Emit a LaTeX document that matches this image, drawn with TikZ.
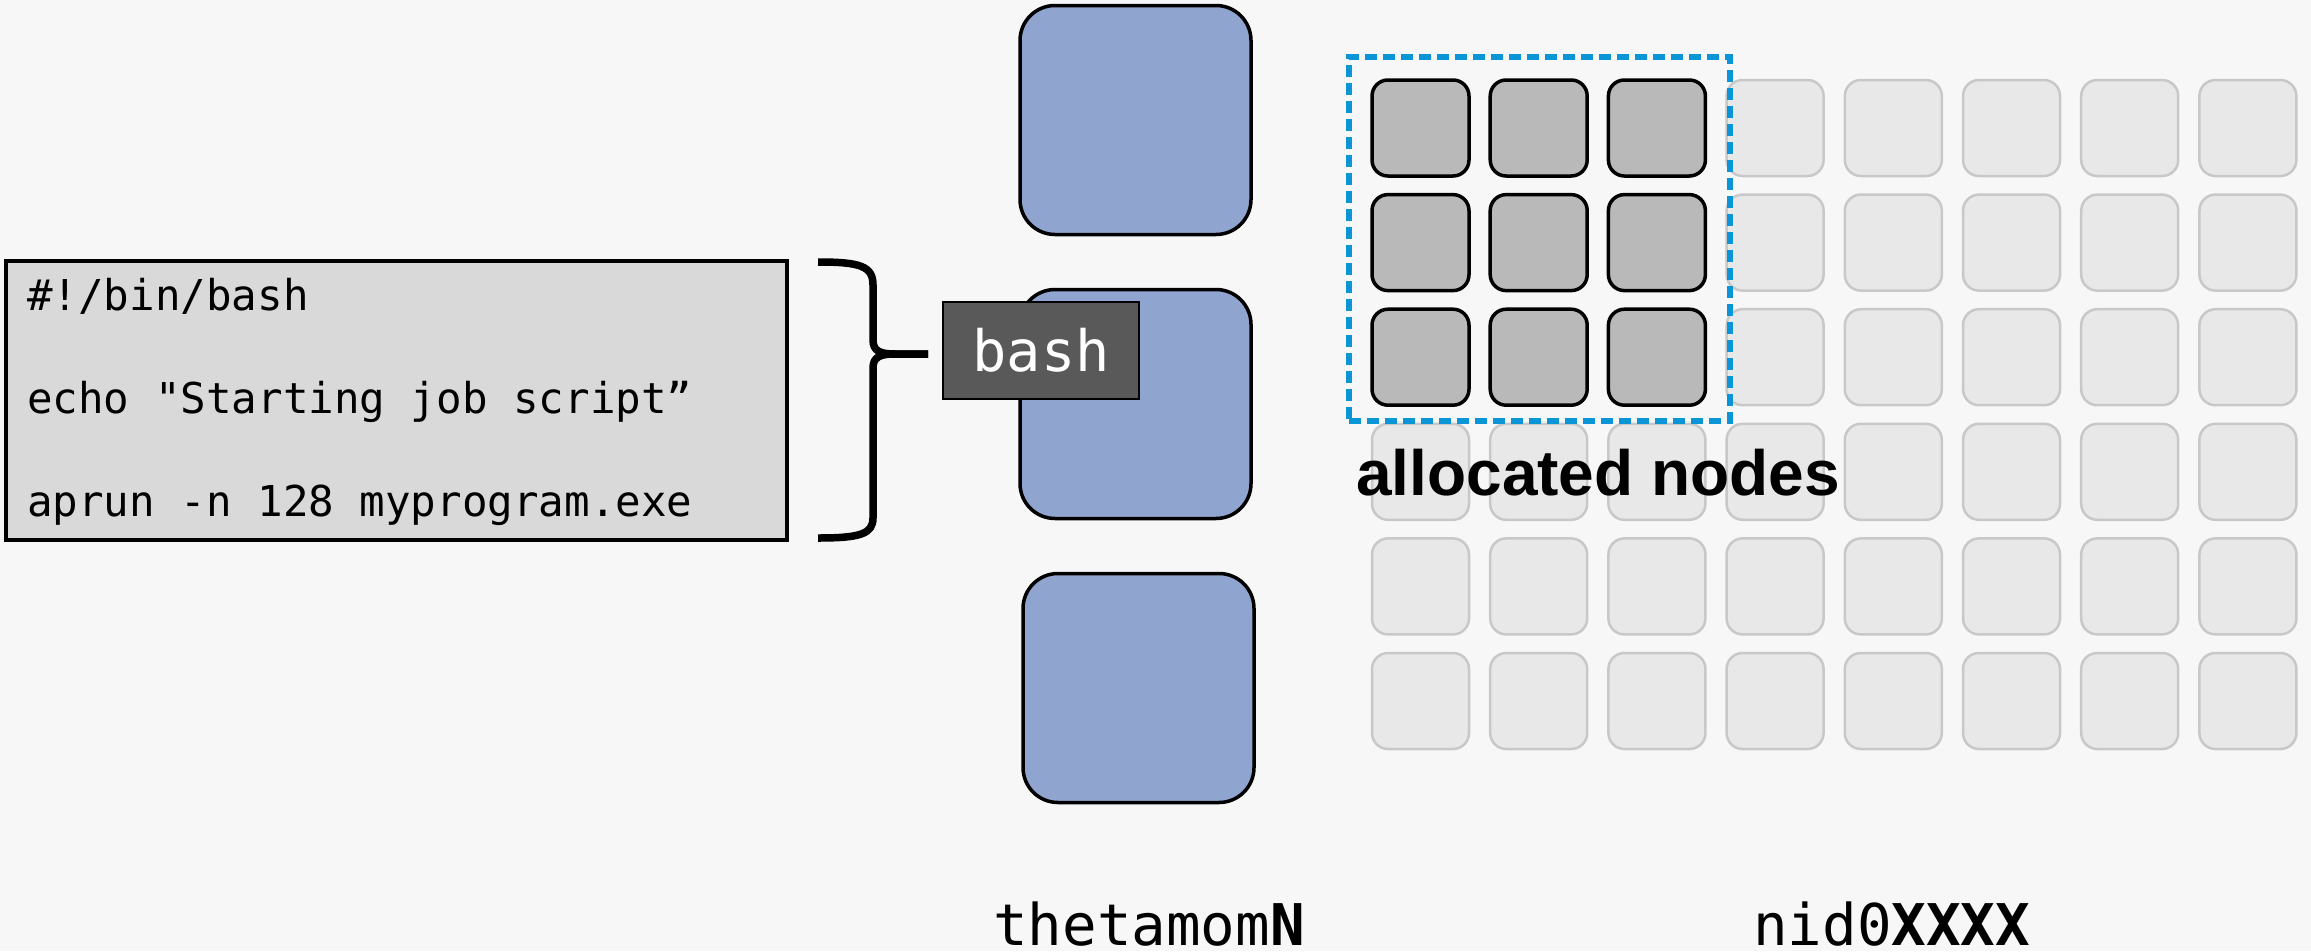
\documentclass[tikz,border=0pt]{standalone}
\usepackage{fontspec}
\setmonofont{DejaVu Sans Mono}
\setsansfont{Liberation Sans}
\definecolor{pagebg}{RGB}{247,247,247}
\definecolor{scriptfill}{RGB}{217,217,217}
\definecolor{bashfill}{RGB}{89,89,89}
\definecolor{loginblue}{RGB}{143,164,206}
\definecolor{freefill}{RGB}{232,232,232}
\definecolor{freeline}{RGB}{200,200,200}
\definecolor{usedfill}{RGB}{185,185,185}
\definecolor{allocblue}{RGB}{10,150,214}
\tikzset{
  scriptbox/.style={rectangle, draw=black, fill=scriptfill, line width=3.5pt,
    minimum width=781pt, minimum height=279pt, inner sep=0pt},
  codeline/.style={anchor=base west, inner sep=0pt, font=\ttfamily\fontsize{42.5pt}{50pt}\selectfont},
  shellbox/.style={rectangle, draw=black, fill=bashfill, line width=2.5pt,
    minimum width=196pt, minimum height=97pt, inner sep=0pt, text=white,
    font=\ttfamily\fontsize{57pt}{66pt}\selectfont},
  loginnode/.style={rectangle, rounded corners=35pt, draw=black, fill=loginblue,
    line width=3.5pt, minimum width=231pt, minimum height=229pt, inner sep=0pt},
  freenode/.style={rectangle, rounded corners=16pt, draw=freeline, fill=freefill,
    line width=2.5pt, minimum width=97pt, minimum height=96pt, inner sep=0pt},
  usednode/.style={freenode, draw=black, fill=usedfill, line width=3.5pt},
  allocframe/.style={rectangle, draw=allocblue, line width=5.5pt,
    dash pattern=on 12pt off 6pt, minimum width=381pt, minimum height=364pt, inner sep=0pt},
  hostlabel/.style={anchor=base west, inner sep=0pt, font=\ttfamily\fontsize{57.5pt}{66pt}\selectfont},
  bracepath/.style={line width=7.5pt, line join=round}
}
\begin{document}
\begin{tikzpicture}[x=1pt,y=-1pt]
  % page
  \fill[pagebg] (0,0) rectangle (2311,951);
  \useasboundingbox (0,0) rectangle (2311,951);

  % job script
  \node[scriptbox] (script) at (396.5,400.5) {};
  \node[codeline] (l1) at (27,310) {\#!/bin/bash};
  \node[codeline] (l2) at (27,413) {echo "Starting job script”};
  \node[codeline] (l3) at (27,516) {aprun -n 128 myprogram.exe};

  % brace gathering the script into the shell
  \coordinate (bracetip) at (928,354);
  \draw[bracepath] (818,262) .. controls (860,262) and (873,266) .. (873,285)
    -- (873,340) .. controls (873,351) and (880,354) .. (895,354) -- (bracetip);
  \draw[bracepath] (bracetip) -- (895,354) .. controls (880,354) and (873,357) .. (873,368)
    -- (873,518) .. controls (873,534) and (860,538) .. (818,538);

  % login nodes
  \node[loginnode] (mom1) at (1135.5,120) {};
  \node[loginnode] (mom2) at (1135.5,404) {};
  \node[loginnode] (mom3) at (1138.5,688) {};
  \node[shellbox] (bash) at (1041,350.5) {bash};

  % compute nodes
  \foreach \i in {0,...,7} {
    \foreach \j in {0,...,5} {
      \pgfmathsetmacro{\cx}{1420.5+118.2*\i}
      \pgfmathsetmacro{\cy}{128+114.6*\j}
      \ifnum\i<3 \ifnum\j<3
        \node[usednode] (c-\i-\j) at (\cx,\cy) {};
      \else
        \node[freenode] (c-\i-\j) at (\cx,\cy) {};
      \fi \else
        \node[freenode] (c-\i-\j) at (\cx,\cy) {};
      \fi
    }
  }
  \node[allocframe] (alloc) at (1539.5,239) {};
  \node[anchor=base west, inner sep=0pt, font=\sffamily\bfseries\fontsize{64pt}{72pt}\selectfont]
    (alloclabel) at (1356,495) {allocated nodes};

  % host name labels
  \node[hostlabel] (momname) at (993,945) {thetamom\textbf{N}};
  \node[hostlabel] (nidname) at (1753,945) {nid0\textbf{XXXX}};
\end{tikzpicture}
\end{document}
